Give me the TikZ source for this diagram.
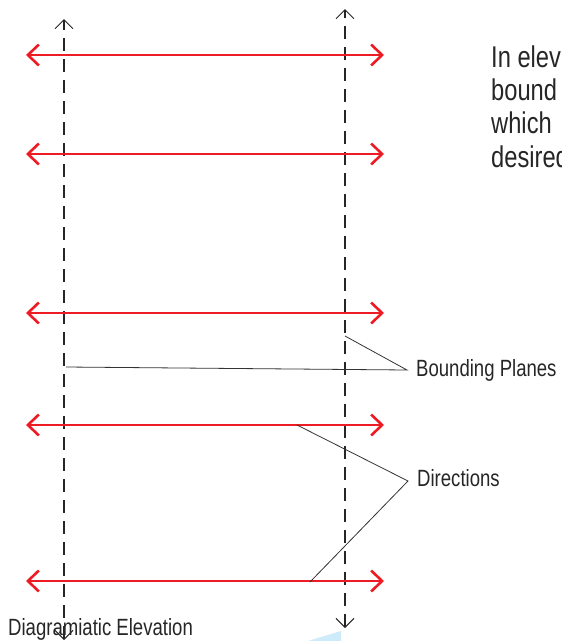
\documentclass[tikz,border=0pt]{standalone}
\usepackage{fontspec}
\setmainfont{Liberation Sans}[FakeStretch=0.79]
\usetikzlibrary{arrows.meta}
\definecolor{redline}{HTML}{ED1C24}
\definecolor{txtgray}{HTML}{262626}
\definecolor{paleblue}{HTML}{CDEBF8}
\begin{document}
\begin{tikzpicture}[x=1pt,y=-1pt,
  redarrow/.style={draw=redline,line width=2.6pt,
    {Straight Barb[length=11pt,width=21pt,line width=2.6pt]}-{Straight Barb[length=11pt,width=21pt,line width=2.6pt]}},
  planeline/.style={draw=black!85,line width=1.1pt,dash pattern=on 13pt off 8pt,
    {Straight Barb[length=9pt,width=18pt,line width=1pt]}-{Straight Barb[length=9pt,width=18pt,line width=1pt]}},
  leader/.style={draw=black!80,line width=0.8pt},
  label/.style={inner sep=0pt,anchor=base west,text=txtgray,font=\fontsize{23.5}{28}\selectfont},
  bodytext/.style={inner sep=0pt,anchor=base west,text=txtgray,font=\fontsize{30}{33}\selectfont}]
\useasboundingbox (0,0) rectangle (562,641);
\clip (0,0) rectangle (562,641);
\fill[paleblue] (308,641) -- (341,631) -- (341,641) -- cycle;
% bounding planes
\coordinate (L1) at (64,19);  \coordinate (L2) at (64,640);
\coordinate (R1) at (345,9);  \coordinate (R2) at (345,628);
\draw[planeline] (L2) -- (L1);
\draw[planeline] (R2) -- (R1);
% directions
\foreach \y [count=\i] in {55,154,313,425,581}{
  \coordinate (a\i) at (26,\y);
  \coordinate (b\i) at (384,\y);
  \draw[redarrow] (a\i) -- (b\i);
}
% text (cut off at the right edge, as in the reference)
\node[bodytext] (t1) at (491,67) {In elev};
\node[bodytext] (t2) at (491,100) {bound};
\node[bodytext] (t3) at (491,133) {which};
\node[bodytext] (t4) at (491,167) {desired};
\node[label] (bp) at (416,376) {Bounding Planes};
\node[label] (dir) at (417,486) {Directions};
\node[label] (de) at (8,635) {Diagramiatic Elevation};
% leaders
\coordinate (bptip) at (407,370);
\coordinate (dirtip) at (408,481);
\coordinate (bpR) at (345,336);
\coordinate (bpL) at (66,367);
\coordinate (d1) at (297,425);
\coordinate (d2) at (310,582);
\draw[leader] (bpR) -- (bptip) -- (bpL);
\draw[leader] (d1) -- (dirtip) -- (d2);
\end{tikzpicture}
\end{document}
